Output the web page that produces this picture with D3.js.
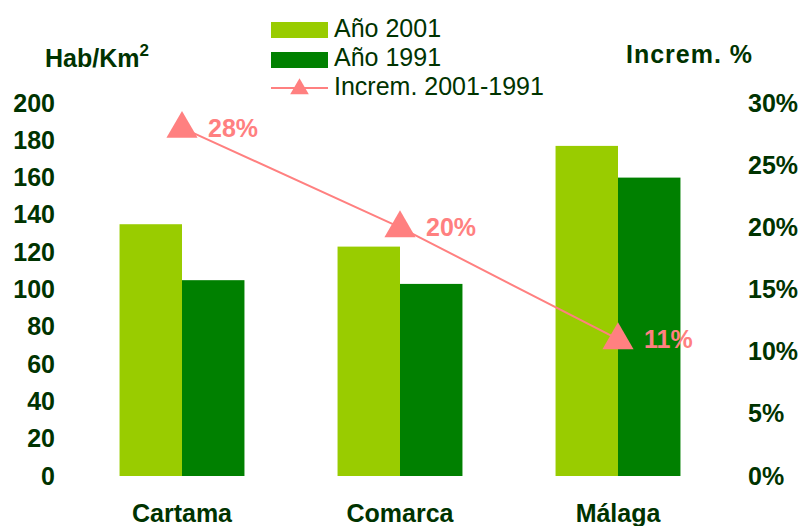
<!DOCTYPE html>
<html>
<head>
<meta charset="utf-8">
<script src="https://cdn.jsdelivr.net/npm/d3@7"></script>
<style>
  body { margin: 0; background: #fff; }
  svg { display: block; font-family: "Liberation Sans", Arial, sans-serif; }
</style>
</head>
<body>
<svg id="chart" width="801" height="526"></svg>
<script>
// chart data
const categories = ["Cartama", "Comarca", "Málaga"];
const values2001 = [135, 123, 177];
const values1991 = [105, 103, 160];
const increments = [28, 20, 11];
const leftTicks = [0, 20, 40, 60, 80, 100, 120, 140, 160, 180, 200];
const rightTicks = [0, 5, 10, 15, 20, 25, 30];

const textColor = "#003300";
const col2001 = "#99cc00";
const col1991 = "#008000";
const colInc = "#ff8080";

const svg = d3.select("#chart");

const x = d3.scaleBand()
  .domain(categories)
  .range([73, 727])
  .paddingInner(0.427)
  .paddingOuter(0.2135);

const sub = d3.scaleBand()
  .domain(["2001", "1991"])
  .range([0, x.bandwidth()]);

const y = d3.scaleLinear().domain([0, 200]).range([476, 103]);
const yr = d3.scaleLinear().domain([0, 30]).range([476, 103]);

// bars
const groups = svg.append("g")
  .selectAll("g")
  .data(categories)
  .join("g")
  .attr("transform", d => `translate(${x(d)},0)`);

groups.append("rect")
  .attr("x", sub("2001"))
  .attr("width", sub.bandwidth())
  .attr("y", (d, i) => y(values2001[i]))
  .attr("height", (d, i) => y(0) - y(values2001[i]))
  .attr("fill", col2001);

groups.append("rect")
  .attr("x", sub("1991"))
  .attr("width", sub.bandwidth())
  .attr("y", (d, i) => y(values1991[i]))
  .attr("height", (d, i) => y(0) - y(values1991[i]))
  .attr("fill", col1991);

// left axis
const leftAxis = svg.append("g")
  .attr("transform", "translate(55,0)")
  .call(d3.axisLeft(y).tickValues(leftTicks).tickSize(0).tickPadding(0));
leftAxis.select(".domain").remove();
leftAxis.selectAll("text")
  .attr("font-size", 25).attr("font-weight", "bold")
  .attr("fill", textColor).attr("font-family", "Liberation Sans, Arial, sans-serif");

// right axis
const rightAxis = svg.append("g")
  .attr("transform", "translate(748,0)")
  .call(d3.axisRight(yr).tickValues(rightTicks).tickSize(0).tickPadding(0).tickFormat(d => d + "%"));
rightAxis.select(".domain").remove();
rightAxis.selectAll("text")
  .attr("font-size", 25).attr("font-weight", "bold")
  .attr("fill", textColor).attr("font-family", "Liberation Sans, Arial, sans-serif");

// category labels
const bottomAxis = svg.append("g")
  .attr("transform", "translate(0,476)")
  .call(d3.axisBottom(x).tickSize(0).tickPadding(0));
bottomAxis.select(".domain").remove();
bottomAxis.selectAll("text")
  .attr("dy", null)
  .attr("y", 46)
  .attr("font-size", 25).attr("font-weight", "bold")
  .attr("fill", textColor).attr("font-family", "Liberation Sans, Arial, sans-serif");

// increment line
const cx = d => x(d) + x.bandwidth() / 2;
const lineData = categories.map((c, i) => ({ c, v: increments[i] }));
svg.append("path")
  .datum(lineData)
  .attr("fill", "none")
  .attr("stroke", colInc)
  .attr("stroke-width", 2)
  .attr("d", d3.line().x(d => cx(d.c)).y(d => yr(d.v)));

const tri = d3.symbol().type(d3.symbolTriangle).size(420);
svg.append("g").selectAll("path")
  .data(lineData)
  .join("path")
  .attr("d", tri)
  .attr("fill", colInc)
  .attr("transform", d => `translate(${cx(d.c)},${yr(d.v) + 1})`);

svg.append("g").selectAll("text")
  .data(lineData)
  .join("text")
  .attr("x", d => cx(d.c) + 26)
  .attr("y", d => yr(d.v) + 9)
  .attr("font-size", 25).attr("font-weight", "bold")
  .attr("fill", colInc)
  .text(d => d.v + "%");

// axis titles
svg.append("text")
  .attr("x", 45).attr("y", 67)
  .attr("font-size", 25).attr("font-weight", "bold")
  .attr("fill", textColor)
  .text("Hab/Km")
  .append("tspan")
  .attr("dy", -11)
  .attr("font-size", 17)
  .text("2");

svg.append("text")
  .attr("x", 626).attr("y", 63)
  .attr("font-size", 25).attr("font-weight", "bold")
  .attr("fill", textColor)
  .attr("letter-spacing", 1)
  .text("Increm. %");

// legend
const legend = svg.append("g").attr("transform", "translate(271,0)");
legend.append("rect").attr("x", 0).attr("y", 22).attr("width", 57).attr("height", 16).attr("fill", col2001);
legend.append("rect").attr("x", 0).attr("y", 52).attr("width", 57).attr("height", 16).attr("fill", col1991);
legend.append("line").attr("x1", 0).attr("x2", 57).attr("y1", 88).attr("y2", 88)
  .attr("stroke", colInc).attr("stroke-width", 2);
legend.append("path")
  .attr("d", d3.symbol().type(d3.symbolTriangle).size(150))
  .attr("fill", colInc)
  .attr("transform", "translate(28.5,89)");

const legendLabels = ["Año 2001", "Año 1991", "Increm. 2001-1991"];
legend.selectAll("text.lg")
  .data(legendLabels)
  .join("text")
  .attr("class", "lg")
  .attr("x", 63)
  .attr("y", (d, i) => 37 + i * 29)
  .attr("font-size", 25)
  .attr("fill", textColor)
  .text(d => d);
</script>
</body>
</html>
